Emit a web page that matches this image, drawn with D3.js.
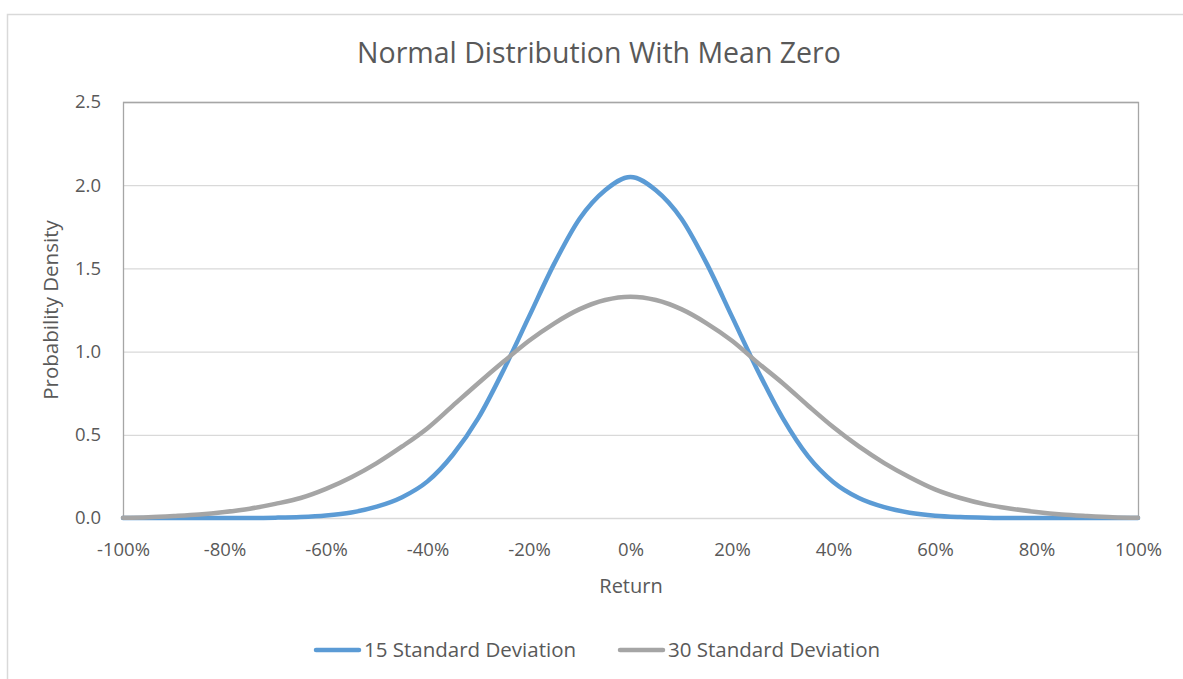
<!DOCTYPE html>
<html>
<head>
<meta charset="utf-8">
<script src="https://cdn.jsdelivr.net/npm/d3@7"></script>
<style>
  body { margin: 0; background: #fff; }
  svg { display: block; font-family: "Open Sans", "Noto Sans", sans-serif; }
</style>
</head>
<body>
<svg width="1183" height="679"></svg>
<script>
// returns in percent, every 5%
const returns = [-100, -95, -90, -85, -80, -75, -70, -65, -60, -55, -50, -45, -40, -35, -30, -25, -20, -15, -10, -5,
  0, 5, 10, 15, 20, 25, 30, 35, 40, 45, 50, 55, 60, 65, 70, 75, 80, 85, 90, 95, 100];

const sd15 = [0, 0, 0, 0, 0, 0, 0.002, 0.006, 0.015, 0.033, 0.068, 0.125, 0.22, 0.38, 0.6, 0.89, 1.21, 1.53, 1.80, 1.97,
  2.05, 1.97, 1.80, 1.53, 1.21, 0.89, 0.6, 0.37, 0.215, 0.12, 0.065, 0.032, 0.014, 0.006, 0.002, 0, 0, 0, 0, 0, 0];

const sd30 = [0.002, 0.005, 0.012, 0.021, 0.036, 0.056, 0.085, 0.12, 0.175, 0.245, 0.33, 0.43, 0.54, 0.675, 0.81, 0.94, 1.065, 1.17, 1.255, 1.31,
  1.33, 1.31, 1.255, 1.17, 1.065, 0.935, 0.81, 0.675, 0.545, 0.43, 0.33, 0.245, 0.172, 0.12, 0.082, 0.056, 0.036, 0.021, 0.012, 0.005, 0.002];

const yTicks = [0, 0.5, 1.0, 1.5, 2.0, 2.5];
const xTicks = [-100, -80, -60, -40, -20, 0, 20, 40, 60, 80, 100];

const seriesNames = ['15 Standard Deviation', '30 Standard Deviation'];
const seriesColors = ['#5B9BD5', '#A5A5A5'];

const textColor = '#595959';
const svg = d3.select('svg');

// chart frame (only the top and left edges show in the picture)
svg.append('rect')
  .attr('x', 7.5).attr('y', 14.5)
  .attr('width', 1300).attr('height', 800)
  .attr('fill', 'none')
  .attr('stroke', '#D9D9D9')
  .attr('stroke-width', 1.5);

const plot = { left: 123, right: 1138, top: 102, bottom: 518 };

const x = d3.scaleLinear().domain([-100, 100]).range([plot.left, plot.right]);
const y = d3.scaleLinear().domain([0, 2.5]).range([plot.bottom, plot.top]);

// gridlines
svg.append('g')
  .selectAll('line')
  .data(yTicks)
  .enter().append('line')
  .attr('x1', plot.left).attr('x2', plot.right)
  .attr('y1', d => y(d) + 0.5).attr('y2', d => y(d) + 0.5)
  .attr('stroke', '#D9D9D9')
  .attr('stroke-width', 1.3);

// plot area border: top, right, left
svg.append('path')
  .attr('d', `M${plot.left + 0.5},${plot.bottom}V${plot.top + 0.5}H${plot.right + 0.5}V${plot.bottom}`)
  .attr('fill', 'none')
  .attr('stroke', '#A6A6A6')
  .attr('stroke-width', 1.3);

// y axis labels
const yAxis = svg.append('g')
  .attr('transform', `translate(${plot.left - 22},0)`)
  .call(d3.axisLeft(y).tickValues(yTicks).tickFormat(d3.format('.1f')).tickSize(0).tickPadding(0));
yAxis.select('.domain').remove();
yAxis.selectAll('text')
  .attr('fill', textColor)
  .attr('font-size', '18.5px')
  .attr('font-family', '"Open Sans", sans-serif');

// x axis labels
const xAxis = svg.append('g')
  .attr('transform', `translate(0,${plot.bottom + 25})`)
  .call(d3.axisBottom(x).tickValues(xTicks).tickFormat(d => d + '%').tickSize(0).tickPadding(0));
xAxis.select('.domain').remove();
xAxis.selectAll('text')
  .attr('fill', textColor)
  .attr('font-size', '18.5px')
  .attr('font-family', '"Open Sans", sans-serif');

// series
const line = d3.line()
  .x((d, i) => x(returns[i]))
  .y(d => y(d))
  .curve(d3.curveMonotoneX);

[sd15, sd30].forEach((values, i) => {
  svg.append('path')
    .datum(values)
    .attr('d', line)
    .attr('fill', 'none')
    .attr('stroke', seriesColors[i])
    .attr('stroke-width', 4.5)
    .attr('stroke-linejoin', 'round')
    .attr('stroke-linecap', 'round');
});

// title
svg.append('text')
  .attr('x', 599).attr('y', 63)
  .attr('text-anchor', 'middle')
  .attr('fill', textColor)
  .attr('font-size', '28.5px')
  .text('Normal Distribution With Mean Zero');

// axis titles
svg.append('text')
  .attr('x', 631).attr('y', 593)
  .attr('text-anchor', 'middle')
  .attr('fill', textColor)
  .attr('font-size', '20px')
  .text('Return');

svg.append('text')
  .attr('transform', 'translate(58,310) rotate(-90)')
  .attr('text-anchor', 'middle')
  .attr('fill', textColor)
  .attr('font-size', '20.5px')
  .text('Probability Density');

// legend
const legendX = [316, 620];
const legend = svg.append('g')
  .selectAll('g')
  .data(seriesNames)
  .enter().append('g')
  .attr('transform', (d, i) => `translate(${legendX[i]},650)`);

legend.append('line')
  .attr('x1', 0).attr('x2', 43)
  .attr('stroke', (d, i) => seriesColors[i])
  .attr('stroke-width', 4.5)
  .attr('stroke-linecap', 'round');

legend.append('text')
  .attr('x', 48).attr('y', 7)
  .attr('fill', textColor)
  .attr('font-size', '20.5px')
  .text(d => d);
</script>
</body>
</html>
